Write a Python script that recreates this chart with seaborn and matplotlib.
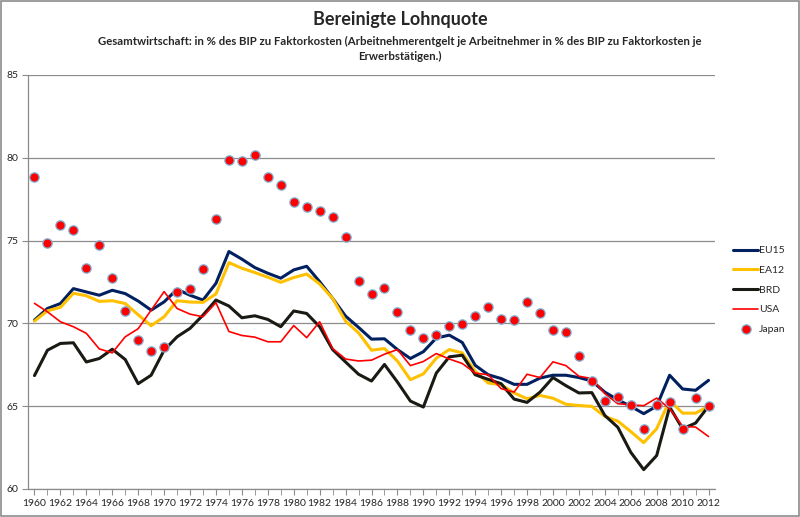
import matplotlib
matplotlib.use('Agg')
import matplotlib.pyplot as plt
import seaborn as sns
from matplotlib.patches import Rectangle
from matplotlib.ticker import MultipleLocator

# Werte
years = list(range(1960, 2013))

eu15 = [70.2, 70.9, 71.2, 72.1, 71.9, 71.7, 72.0, 71.8, 71.35, 70.8,
        71.3, 72.06, 71.7, 71.41, 72.42, 74.34, 73.88, 73.37, 73.03, 72.73,
        73.23, 73.45, 72.52, 71.51, 70.44, 69.76, 69.05, 69.07, 68.42, 67.88,
        68.29, 69.12, 69.29, 68.85, 67.47, 66.9, 66.67, 66.32, 66.32, 66.7,
        66.87, 66.87, 66.73, 66.52, 65.85, 65.39, 64.99, 64.55, 65.0, 66.87,
        66.04, 65.96, 66.56]

ea12 = [70.14, 70.76, 70.97, 71.82, 71.67, 71.33, 71.37, 71.2, 70.52, 69.86,
        70.4, 71.37, 71.29, 71.27, 71.78, 73.67, 73.33, 73.07, 72.79, 72.48,
        72.77, 72.98, 72.38, 71.51, 70.14, 69.43, 68.38, 68.48, 67.73, 66.6,
        66.95, 67.9, 68.42, 68.22, 67.11, 66.4, 66.3, 65.8, 65.45, 65.65,
        65.48, 65.12, 65.04, 64.99, 64.38, 64.1, 63.47, 62.8, 63.64, 65.35,
        64.58, 64.58, 64.99]

brd = [66.85, 68.38, 68.79, 68.83, 67.67, 67.88, 68.44, 67.82, 66.36, 66.87,
       68.38, 69.19, 69.7, 70.5, 71.41, 71.05, 70.34, 70.46, 70.24, 69.8,
       70.75, 70.6, 69.8, 68.42, 67.67, 66.93, 66.52, 67.52, 66.46, 65.31,
       64.95, 67.0, 67.98, 68.08, 66.9, 66.62, 66.36, 65.43, 65.23, 65.85,
       66.73, 66.24, 65.8, 65.82, 64.44, 63.73, 62.22, 61.17, 62.02, 64.95,
       63.64, 63.98, 65.0]

usa = [71.21, 70.7, 70.1, 69.8, 69.4, 68.46, 68.22, 69.19, 69.68, 70.8,
       71.92, 70.9, 70.56, 70.4, 71.25, 69.51, 69.27, 69.17, 68.89, 68.89,
       69.87, 69.14, 70.1, 68.48, 67.85, 67.73, 67.78, 68.14, 68.42, 67.45,
       67.7, 68.18, 67.85, 67.58, 67.0, 66.9, 66.06, 65.85, 66.93, 66.73,
       67.68, 67.45, 66.81, 66.67, 65.76, 65.15, 65.09, 65.03, 65.49, 64.85,
       63.78, 63.74, 63.17]

japan = [78.85, 74.88, 75.92, 75.64, 73.35, 74.73, 72.76, 70.76, 68.99, 68.34,
         68.55, 71.9, 72.08, 73.3, 76.32, 79.88, 79.78, 80.14, 78.85, 78.36,
         77.35, 77.05, 76.76, 76.4, 75.23, 72.55, 71.8, 72.12, 70.66, 69.58,
         69.13, 69.31, 69.82, 69.98, 70.42, 71.0, 70.26, 70.22, 71.31, 70.62,
         69.62, 69.47, 68.04, 66.5, 65.31, 65.55, 65.07, 63.64, 65.07, 65.23,
         63.64, 65.52, 65.0]

sns.set_style('white')
plt.rcParams['font.family'] = ['Lato', 'DejaVu Sans']

fig = plt.figure(figsize=(8, 5.17), dpi=100)
ax = fig.add_axes([28 / 800, 1 - 489 / 517, 687 / 800, 414 / 517])

sns.lineplot(x=years, y=eu15, ax=ax, color='#002060', lw=2.2, label='EU15')
sns.lineplot(x=years, y=ea12, ax=ax, color='#FFC000', lw=2.2, label='EA12')
sns.lineplot(x=years, y=brd, ax=ax, color='#1a1a14', lw=2.2, label='BRD')
sns.lineplot(x=years, y=usa, ax=ax, color='#FF0000', lw=1.2, label='USA')
sns.scatterplot(x=years, y=japan, ax=ax, color='#FF0000', s=45,
                edgecolor='#7fb0d4', linewidth=0.9, label='Japan', zorder=5)

ax.set_xlim(1959.5, 2012.5)
ax.set_ylim(60, 85)
ax.set_yticks([60, 65, 70, 75, 80, 85])
ax.set_xticks(list(range(1960, 2013, 2)))
ax.xaxis.set_minor_locator(MultipleLocator(1))
ax.yaxis.grid(True, color='#8c8c8c', lw=0.9)
ax.xaxis.grid(False)
ax.set_axisbelow(True)

for side in ['top', 'right']:
    ax.spines[side].set_visible(False)
for side in ['left', 'bottom']:
    ax.spines[side].set_color('#8c8c8c')
    ax.spines[side].set_linewidth(0.9)

ax.tick_params(axis='x', which='both', direction='out', length=4, color='#8c8c8c',
               bottom=True, labelsize=7.5, pad=3)
ax.tick_params(axis='y', direction='out', length=4, color='#8c8c8c', left=True,
               labelsize=7.5, pad=3)

handles, labels = ax.get_legend_handles_labels()
ax.legend_.remove()
fig.legend(handles, labels, loc='upper left', bbox_to_anchor=(733 / 800, 1 - 246 / 517),
           frameon=False, fontsize=7.5, handlelength=2.4, handletextpad=0.1,
           labelspacing=1.0, borderaxespad=0, borderpad=0)

fig.text(0.5, 1 - 20 / 517, 'Bereinigte Lohnquote', ha='center', va='center',
         fontsize=13, fontweight='bold')
fig.text(0.5, 1 - 49 / 517,
         'Gesamtwirtschaft: in % des BIP zu Faktorkosten (Arbeitnehmerentgelt je Arbeitnehmer '
         'in % des BIP zu Faktorkosten je\nErwerbstätigen.)',
         ha='center', va='center', fontsize=8.2, fontweight='bold', linespacing=1.4)

fig.add_artist(Rectangle((0.001, 0.001), 0.998, 0.997, transform=fig.transFigure,
                         fill=False, edgecolor='#8c8c8c', lw=1.2))

fig.savefig('out.png', dpi=100)
